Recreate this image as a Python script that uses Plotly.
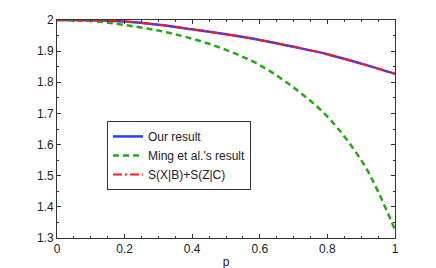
import plotly.graph_objects as go

p = [0.0, 0.1, 0.2, 0.3, 0.4, 0.5, 0.6, 0.7, 0.8, 0.9, 0.95, 1.0]
our_result = [2.0, 1.999, 1.995, 1.985, 1.970, 1.954, 1.936, 1.914, 1.890, 1.860, 1.844, 1.827]
ming_result = [2.0, 1.997, 1.984, 1.966, 1.940, 1.904, 1.855, 1.783, 1.690, 1.550, 1.449, 1.326]
sxb_szc = [2.0, 1.999, 1.995, 1.985, 1.970, 1.954, 1.936, 1.914, 1.890, 1.860, 1.844, 1.827]

fig = go.Figure()
fig.add_trace(go.Scatter(x=p, y=our_result, mode="lines", name="Our result",
                         line=dict(color="#2b3bff", width=2.5, shape="spline")))
fig.add_trace(go.Scatter(x=p, y=ming_result, mode="lines", name="Ming et al.'s result",
                         line=dict(color="#22aa11", width=2.5, dash="6px,4px", shape="spline")))
fig.add_trace(go.Scatter(x=p, y=sxb_szc, mode="lines", name="S(X|B)+S(Z|C)",
                         line=dict(color="#ff1a1a", width=2, dash="9px,3px,2px,3px", shape="spline")))

font = dict(family="Liberation Sans, Arial, sans-serif", size=12, color="#222")
axis_common = dict(showgrid=False, zeroline=False, showline=True, linecolor="#333",
                   linewidth=1, mirror="allticks", ticks="inside", ticklen=4,
                   tickcolor="#333", tickfont=font, automargin=False)
fig.update_layout(
    width=436, height=268,
    margin=dict(l=49, r=49, t=12, b=38, autoexpand=False),
    paper_bgcolor="white", plot_bgcolor="white",
    font=font,
    showlegend=True,
    legend=dict(x=0.148, y=0.537, xanchor="left", yanchor="top",
                bgcolor="white", bordercolor="#333", borderwidth=1,
                font=dict(family="Liberation Sans, Arial, sans-serif", size=12, color="#222"),
                tracegroupgap=0, itemwidth=30),
)
fig.update_xaxes(range=[0, 1], dtick=0.2, tick0=0,
                 minor=dict(dtick=0.05, ticklen=2, ticks="inside", tickcolor="#333"),
                 title=dict(text="p", standoff=2, font=font), **axis_common)
fig.update_yaxes(range=[1.3, 2.0], dtick=0.1, tick0=1.3,
                 minor=dict(dtick=0.05, ticklen=2, ticks="inside", tickcolor="#333"),
                 **axis_common)

fig.write_html("out.html")
